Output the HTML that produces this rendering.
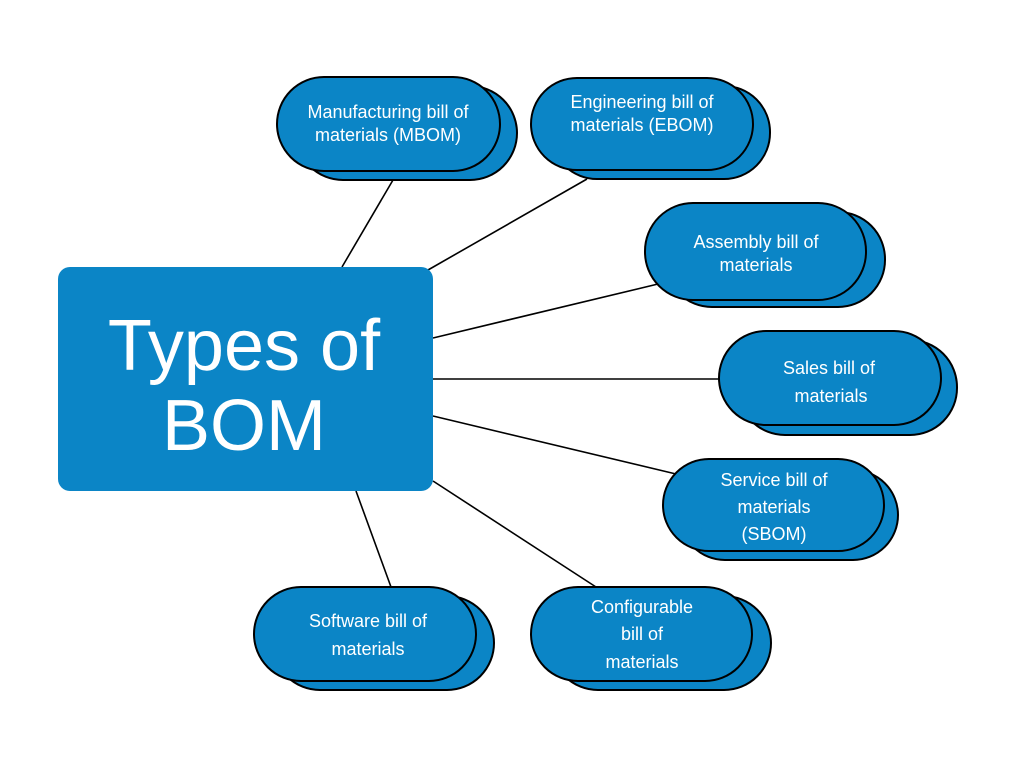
<!DOCTYPE html>
<html><head><meta charset="utf-8"><style>
html,body{margin:0;padding:0;background:#fff;}
svg{display:block;}
text{font-family:"Liberation Sans",sans-serif;fill:#fff;}
</style></head><body>
<svg width="1024" height="768" viewBox="0 0 1024 768" xmlns="http://www.w3.org/2000/svg">
<g stroke="#000" stroke-width="1.6">
<line x1="393" y1="180" x2="342" y2="267"/>
<line x1="587" y1="179" x2="428" y2="270"/>
<line x1="658" y1="284" x2="433" y2="338"/>
<line x1="719" y1="379" x2="433" y2="379"/>
<line x1="676" y1="474" x2="433" y2="416"/>
<line x1="596" y1="587" x2="433" y2="481"/>
<line x1="391" y1="587" x2="356" y2="491"/>
</g>
<rect x="58" y="267" width="375" height="224" rx="12" fill="#0b85c6"/>
<text x="244" y="370" font-size="72" text-anchor="middle">Types of</text>
<text x="244" y="450" font-size="72" text-anchor="middle">BOM</text>
<g fill="#0b85c6" stroke="#000" stroke-width="2">
<rect x="296" y="86" width="221" height="94" rx="47"/>
<rect x="277" y="77" width="223" height="94" rx="47"/>
<rect x="551" y="86" width="219" height="93" rx="46"/>
<rect x="531" y="78" width="222" height="92" rx="46"/>
<rect x="665" y="212" width="220" height="95" rx="47"/>
<rect x="645" y="203" width="221" height="97" rx="48"/>
<rect x="738" y="340" width="219" height="95" rx="47"/>
<rect x="719" y="331" width="222" height="94" rx="47"/>
<rect x="680" y="470" width="218" height="90" rx="45"/>
<rect x="663" y="459" width="221" height="92" rx="46"/>
<rect x="551" y="596" width="220" height="94" rx="47"/>
<rect x="531" y="587" width="221" height="94" rx="47"/>
<rect x="273" y="596" width="221" height="94" rx="47"/>
<rect x="254" y="587" width="222" height="94" rx="47"/>
</g>
<g font-size="18" text-anchor="middle">
<text x="388" y="118">Manufacturing bill of</text>
<text x="388" y="141">materials (MBOM)</text>
<text x="642" y="108">Engineering bill of</text>
<text x="642" y="131">materials (EBOM)</text>
<text x="756" y="248">Assembly bill of</text>
<text x="756" y="271">materials</text>
<text x="829" y="374">Sales bill of</text>
<text x="831" y="402">materials</text>
<text x="774" y="486">Service bill of</text>
<text x="774" y="513">materials</text>
<text x="774" y="540">(SBOM)</text>
<text x="642" y="613">Configurable</text>
<text x="642" y="640">bill of</text>
<text x="642" y="668">materials</text>
<text x="368" y="627">Software bill of</text>
<text x="368" y="655">materials</text>
</g>
</svg>
</body></html>
